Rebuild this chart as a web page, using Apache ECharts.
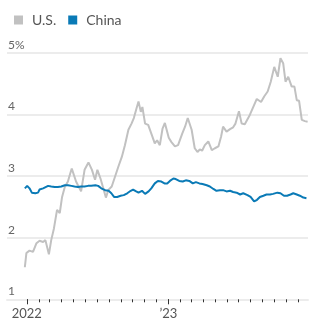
<!DOCTYPE html>
<html>
<head>
<meta charset="utf-8">
<script src="https://cdn.jsdelivr.net/npm/echarts@6/dist/echarts.min.js"></script>
<style>html,body{margin:0;padding:0;background:#fff}#c{width:326px;height:331px}</style>
</head>
<body>
<div id="c"></div>
<script>
// ---- data ----
const seriesNames = ['U.S.', 'China'];
const usDates = ['2021-12-27','2021-12-31','2022-01-08','2022-01-17','2022-01-26','2022-02-03','2022-02-12','2022-02-18','2022-02-27','2022-03-05','2022-03-12','2022-03-20','2022-03-27','2022-04-02','2022-04-09','2022-04-17','2022-04-23','2022-04-27','2022-05-08','2022-05-21','2022-05-30','2022-06-09','2022-06-18','2022-06-26','2022-07-02','2022-07-10','2022-07-24','2022-07-30','2022-08-08','2022-08-16','2022-08-25','2022-09-03','2022-09-11','2022-09-20','2022-09-28','2022-10-04','2022-10-11','2022-10-16','2022-10-22','2022-10-26','2022-11-02','2022-11-10','2022-11-19','2022-11-27','2022-12-03','2022-12-10','2022-12-17','2022-12-23','2023-01-02','2023-01-09','2023-01-18','2023-01-26','2023-01-31','2023-02-06','2023-02-13','2023-02-20','2023-02-23','2023-03-02','2023-03-10','2023-03-17','2023-03-23','2023-03-29','2023-04-05','2023-04-14','2023-04-23','2023-05-01','2023-05-10','2023-05-17','2023-05-22','2023-05-31','2023-06-09','2023-06-17','2023-06-23','2023-07-02','2023-07-09','2023-07-17','2023-07-30','2023-08-08','2023-08-17','2023-08-28','2023-09-05','2023-09-14','2023-09-22','2023-10-01','2023-10-10','2023-10-17','2023-10-24','2023-10-30','2023-11-06','2023-11-15','2023-11-22','2023-11-28','2023-12-04','2023-12-11','2023-12-19','2023-12-26'];
const usValues = [1.52,1.75,1.79,1.77,1.91,1.95,1.93,1.96,1.73,1.96,2.15,2.45,2.40,2.66,2.82,2.91,3.04,3.12,2.91,2.75,3.10,3.22,3.10,2.94,3.10,2.96,2.65,2.77,2.83,2.98,3.15,3.31,3.50,3.75,3.85,3.94,4.10,4.21,4.04,4.12,3.85,3.83,3.67,3.53,3.58,3.50,3.77,3.86,3.62,3.55,3.48,3.50,3.53,3.69,3.80,3.94,3.95,3.75,3.45,3.39,3.43,3.41,3.50,3.56,3.42,3.45,3.48,3.64,3.80,3.72,3.76,3.79,3.85,4.05,3.85,3.84,3.99,4.12,4.25,4.20,4.29,4.37,4.53,4.77,4.61,4.91,4.83,4.53,4.61,4.45,4.45,4.23,4.22,3.91,3.89,3.88];
const cnDates = ['2021-12-27','2022-01-02','2022-01-08','2022-01-14','2022-01-23','2022-01-30','2022-02-03','2022-02-12','2022-02-25','2022-03-05','2022-03-14','2022-03-22','2022-03-31','2022-04-09','2022-04-17','2022-04-26','2022-05-04','2022-05-13','2022-05-21','2022-05-30','2022-06-08','2022-06-16','2022-06-27','2022-07-04','2022-07-12','2022-07-22','2022-07-31','2022-08-07','2022-08-14','2022-08-22','2022-08-31','2022-09-08','2022-09-17','2022-09-26','2022-10-02','2022-10-10','2022-10-16','2022-10-25','2022-11-02','2022-11-11','2022-11-18','2022-11-27','2022-12-05','2022-12-14','2022-12-22','2022-12-29','2023-01-05','2023-01-14','2023-01-20','2023-01-29','2023-02-07','2023-02-15','2023-02-24','2023-03-05','2023-03-13','2023-03-22','2023-03-30','2023-04-10','2023-04-18','2023-04-27','2023-05-05','2023-05-14','2023-05-22','2023-05-31','2023-06-09','2023-06-17','2023-06-26','2023-07-05','2023-07-13','2023-07-24','2023-08-01','2023-08-10','2023-08-17','2023-08-25','2023-09-03','2023-09-11','2023-09-20','2023-09-28','2023-10-09','2023-10-17','2023-10-26','2023-11-03','2023-11-12','2023-11-19','2023-11-28','2023-12-06','2023-12-15','2023-12-23'];
const cnValues = [2.80,2.84,2.80,2.73,2.72,2.73,2.78,2.80,2.84,2.83,2.82,2.82,2.83,2.85,2.85,2.84,2.83,2.82,2.83,2.83,2.84,2.84,2.85,2.84,2.80,2.77,2.76,2.72,2.66,2.66,2.68,2.69,2.72,2.76,2.78,2.75,2.73,2.76,2.71,2.75,2.80,2.88,2.92,2.91,2.88,2.88,2.92,2.96,2.95,2.92,2.91,2.93,2.92,2.88,2.90,2.88,2.87,2.85,2.83,2.79,2.76,2.77,2.77,2.75,2.76,2.74,2.73,2.70,2.72,2.69,2.66,2.59,2.61,2.66,2.68,2.70,2.70,2.71,2.73,2.72,2.68,2.68,2.70,2.72,2.70,2.68,2.65,2.64];
const yTicks = [1, 2, 3, 4, 5];
const monthTicks = ['2022-01-01','2022-02-01','2022-03-01','2022-04-01','2022-05-01','2022-06-01','2022-07-01','2022-08-01','2022-09-01','2022-10-01','2022-11-01','2022-12-01','2023-01-01','2023-02-01','2023-03-01','2023-04-01','2023-05-01','2023-06-01','2023-07-01','2023-08-01','2023-09-01','2023-10-01','2023-11-01','2023-12-01'];
const yearTicks = ['2022-01-01','2023-01-01'];
const yearLabels = ['2022', '\u201923'];
const xMin = '2021-11-11';
const xMax = '2023-12-27';

// ---- build ----
const ts = s => Date.UTC(+s.slice(0, 4), +s.slice(5, 7) - 1, +s.slice(8, 10));
const zip = (d, v) => d.map((x, i) => [ts(x), v[i]]);
const font = 'Lato, "Open Sans", sans-serif';
const GRID = '#ececec';
const yearTs = yearTicks.map(ts);
const chart = echarts.init(document.getElementById('c'), null, {renderer: 'canvas'});
chart.setOption({
  animation: false,
  color: ['#c1c1c1', '#0a7ab6'],
  legend: {
    data: seriesNames, left: 9, top: 8, icon: 'rect', itemWidth: 9, itemHeight: 9, itemGap: 12,
    textStyle: {fontFamily: font, fontSize: 14, color: '#555', padding: [0, 0, 0, 4]}
  },
  grid: {left: 7, right: 18, top: 52.7, bottom: 31.7, containLabel: false},
  xAxis: [{
    type: 'value', min: ts(xMin), max: ts(xMax),
    axisLine: {show: true, lineStyle: {color: GRID, width: 2}},
    axisTick: {show: true, customValues: monthTicks.map(ts), length: 3, lineStyle: {color: '#333', width: 1}},
    axisLabel: {show: true, customValues: yearTs, margin: 8, fontFamily: font, fontSize: 13, color: '#555',
      formatter: v => { const i = yearTs.indexOf(v); return i >= 0 ? yearLabels[i] : ''; }},
    splitLine: {show: false}
  }, {
    type: 'value', min: ts(xMin), max: ts(xMax), position: 'bottom', gridIndex: 0,
    axisLine: {show: false},
    axisTick: {show: true, customValues: yearTs, length: 5, lineStyle: {color: '#333', width: 1}},
    axisLabel: {show: false}, splitLine: {show: false}
  }],
  yAxis: {
    type: 'value', min: 1, max: 5, interval: 1,
    axisLine: {show: false}, axisTick: {show: false},
    splitLine: {show: true, lineStyle: {color: GRID, width: 2}},
    axisLabel: {inside: true, margin: 1, verticalAlign: 'bottom', fontFamily: font, fontSize: 12, color: '#666', padding: [0, 0, 2, 0],
      formatter: v => v === 5 ? v + '%' : String(v)}
  },
  series: [
    {name: seriesNames[0], type: 'line', showSymbol: false, data: zip(usDates, usValues), lineStyle: {width: 2}, z: 2},
    {name: seriesNames[1], type: 'line', showSymbol: false, data: zip(cnDates, cnValues), lineStyle: {width: 2}, z: 3}
  ]
});
</script>
</body>
</html>
